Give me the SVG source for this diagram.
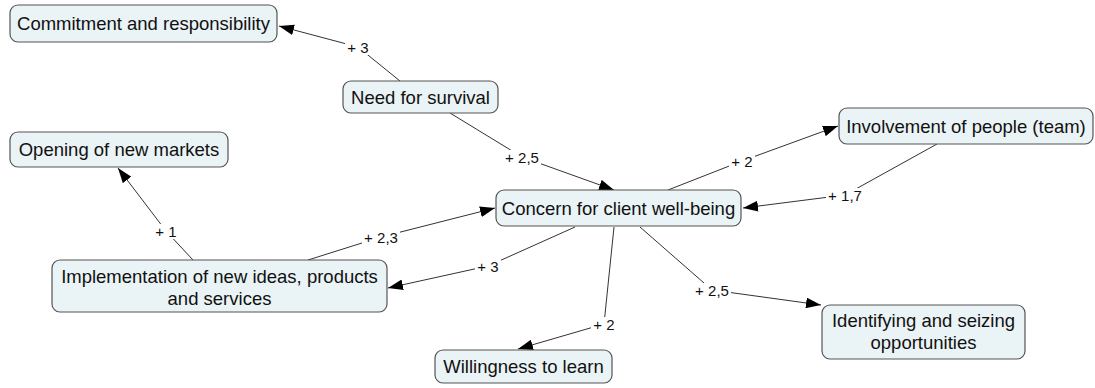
<svg xmlns="http://www.w3.org/2000/svg" width="1095" height="388" viewBox="0 0 1095 388">
<style>
.node rect{fill:#eaf3f5;stroke:#555;stroke-width:1.2}
.node text{font-family:"Liberation Sans",Arial,sans-serif;font-size:18.5px;fill:#111;text-anchor:middle}
.edge{fill:none;stroke:#333;stroke-width:1}
.bg{fill:#fff}
.lbl{font-family:"Liberation Sans",Arial,sans-serif;font-size:15px;fill:#111;text-anchor:middle}
</style>
<defs>
<marker id="arr" viewBox="0 0 14 10" refX="14" refY="5" markerWidth="15" markerHeight="11" markerUnits="userSpaceOnUse" orient="auto">
<path d="M0,0 L14,5 L0,10 z" fill="#000"/>
</marker>
</defs>
<g id="connectors">
<polyline class="edge" points="400,81 358,47 279,26" marker-end="url(#arr)"/>
<polyline class="edge" points="450,113 522,157 614,190" marker-end="url(#arr)"/>
<polyline class="edge" points="668,190 742,161 838,126" marker-end="url(#arr)"/>
<polyline class="edge" points="937,144 845,195 743,208" marker-end="url(#arr)"/>
<polyline class="edge" points="193,260 166,231 118,168" marker-end="url(#arr)"/>
<polyline class="edge" points="308,260 381,237 495,208" marker-end="url(#arr)"/>
<polyline class="edge" points="575,227 488,266 388,288" marker-end="url(#arr)"/>
<polyline class="edge" points="614,227 604,324 518,349" marker-end="url(#arr)"/>
<polyline class="edge" points="640,227 712,290 821,305" marker-end="url(#arr)"/>
<rect class="bg" x="345" y="40" width="26" height="15"/>
<rect class="bg" x="503" y="150" width="38" height="15"/>
<rect class="bg" x="729" y="154" width="26" height="15"/>
<rect class="bg" x="826" y="188" width="38" height="15"/>
<rect class="bg" x="153" y="224" width="26" height="15"/>
<rect class="bg" x="362" y="230" width="38" height="15"/>
<rect class="bg" x="475" y="259" width="26" height="15"/>
<rect class="bg" x="591" y="317" width="26" height="15"/>
<rect class="bg" x="693" y="283" width="38" height="15"/>
<text class="lbl" x="358" y="53">+ 3</text>
<text class="lbl" x="522" y="163">+ 2,5</text>
<text class="lbl" x="742" y="167">+ 2</text>
<text class="lbl" x="845" y="201">+ 1,7</text>
<text class="lbl" x="166" y="237">+ 1</text>
<text class="lbl" x="381" y="243">+ 2,3</text>
<text class="lbl" x="488" y="272">+ 3</text>
<text class="lbl" x="604" y="330">+ 2</text>
<text class="lbl" x="712" y="296">+ 2,5</text>
</g>
<g id="n-commitment" class="node"><rect x="10" y="5" width="267" height="37" rx="8"/><text x="143.5" y="30">Commitment and responsibility</text></g>
<g id="n-survival" class="node"><rect x="343" y="81" width="155" height="32" rx="8"/><text x="420.5" y="104">Need for survival</text></g>
<g id="n-markets" class="node"><rect x="10" y="132" width="218" height="35" rx="8"/><text x="119" y="156">Opening of new markets</text></g>
<g id="n-concern" class="node"><rect x="496" y="190" width="245" height="36" rx="8"/><text x="618.5" y="215">Concern for client well-being</text></g>
<g id="n-involvement" class="node"><rect x="839" y="108" width="254" height="36" rx="8"/><text x="966" y="133">Involvement of people (team)</text></g>
<g id="n-implementation" class="node"><rect x="52" y="260" width="335" height="52" rx="8"/><text x="219.5" y="283">Implementation of new ideas, products</text><text x="219.5" y="305">and services</text></g>
<g id="n-willingness" class="node"><rect x="435" y="350" width="177" height="33" rx="8"/><text x="523.5" y="373">Willingness to learn</text></g>
<g id="n-identifying" class="node"><rect x="822" y="305" width="203" height="54" rx="8"/><text x="923.5" y="327">Identifying and seizing</text><text x="923.5" y="349">opportunities</text></g>
</svg>
